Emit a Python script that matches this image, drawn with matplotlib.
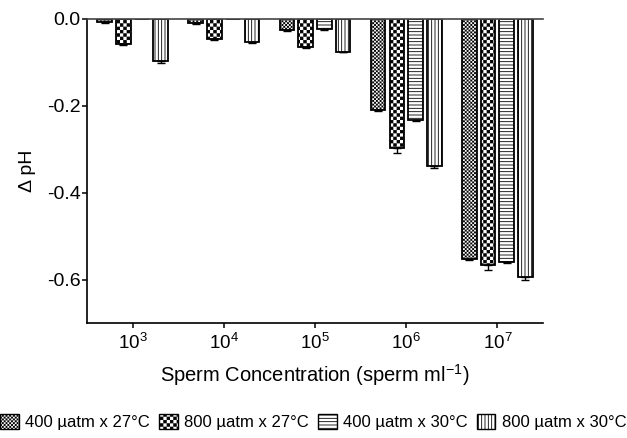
"""
    Delta pH against sperm concentration, grouped hatched bars
"""

import numpy as np
import matplotlib
matplotlib.use('Agg')
import matplotlib.pyplot as plt
import matplotlib.hatch as mhatch
from matplotlib.path import Path
from matplotlib.patches import Patch

concentrations = ['$10^{3}$', '$10^{4}$', '$10^{5}$', '$10^{6}$', '$10^{7}$']
series_labels = ['400 µatm x 27°C', '800 µatm x 27°C', '400 µatm x 30°C', '800 µatm x 30°C']

ph_400_27 = [-0.008, -0.009, -0.025, -0.210, -0.553]
ph_800_27 = [-0.058, -0.046, -0.065, -0.296, -0.567]
ph_400_30 = [0.0, 0.0, -0.023, -0.233, -0.560]
ph_800_30 = [-0.096, -0.054, -0.075, -0.339, -0.595]

err_400_27 = [0.002, 0.003, 0.002, 0.002, 0.003]
err_800_27 = [0.002, 0.002, 0.002, 0.012, 0.010]
err_400_30 = [0.0, 0.0, 0.002, 0.003, 0.002]
err_800_30 = [0.005, 0.002, 0.002, 0.004, 0.005]


class CheckerHatch(mhatch.HatchPatternBase):
    # filled checkerboard squares, one density step per 'O' in the hatch string
    inset = 0.004

    def __init__(self, hatch, density):
        n = hatch.count('O') * density
        self.n = n + (n % 2)
        self.num_vertices = (self.n * self.n // 2) * 5 if n else 0

    def set_vertices_and_codes(self, vertices, codes):
        s = 1.0 / self.n
        d = self.inset
        k = 0
        for i in range(self.n):
            for j in range(self.n):
                if (i + j) % 2:
                    continue
                x0, y0 = j * s + d, i * s + d
                x1, y1 = (j + 1) * s - d, (i + 1) * s - d
                vertices[k:k + 5] = [[x0, y0], [x1, y0], [x1, y1], [x0, y1], [x0, y0]]
                codes[k:k + 5] = [Path.MOVETO, Path.LINETO, Path.LINETO, Path.LINETO, Path.CLOSEPOLY]
                k += 5


# swap the big circles for the checkerboard ('O' is still a valid hatch char)
mhatch._hatch_types = [t for t in mhatch._hatch_types if t is not mhatch.LargeCircles] + [CheckerHatch]

plt.rcParams['font.family'] = ['Liberation Sans', 'DejaVu Sans']
plt.rcParams['mathtext.default'] = 'regular'
plt.rcParams['hatch.linewidth'] = 0.6
plt.rcParams['hatch.color'] = 'black'

hatches = ['O' * 9, 'O' * 5, '-' * 5, '|' * 5]
values = [ph_400_27, ph_800_27, ph_400_30, ph_800_30]
errors = [err_400_27, err_800_27, err_400_30, err_800_30]

fig = plt.figure(figsize=(6.27, 4.38), dpi=100)
ax = fig.add_axes([0.1388, 0.2626, 0.7273, 0.6941])

x = np.arange(len(concentrations))
width = 0.16
pitch = 0.205

for i in range(4):
    pos = x + (i - 1.5) * pitch
    vals = np.array(values[i])
    errs = np.array(errors[i])
    ax.bar(pos, vals, width=width, facecolor='white', edgecolor='black',
           linewidth=1.3, hatch=hatches[i], zorder=2)
    has_err = errs > 0     # no whisker where nothing was measured
    ax.errorbar(pos[has_err], vals[has_err], yerr=[errs[has_err], np.zeros(has_err.sum())],
                fmt='none', ecolor='black', elinewidth=1, capsize=3, capthick=1, zorder=3)

ax.set_xlim(-0.5, 4.5)
ax.set_ylim(-0.7, 0.0)
ax.set_yticks([0.0, -0.2, -0.4, -0.6])
ax.set_yticklabels(['0.0', '-0.2', '-0.4', '-0.6'])
ax.set_xticks(x)
ax.set_xticklabels(concentrations)

ax.spines['right'].set_visible(False)
for side in ['left', 'bottom']:
    ax.spines[side].set_linewidth(1.2)
ax.spines['top'].set_linewidth(1.2)
ax.spines['top'].set_color('#444444')

ax.tick_params(axis='both', direction='out', length=3.5, width=1.1, labelsize=14)
ax.tick_params(axis='y', pad=1)
ax.tick_params(axis='x', pad=4, labelsize=13.5)

ax.set_ylabel('Δ pH', fontsize=14, labelpad=8)
ax.set_xlabel('Sperm Concentration (sperm ml$^{-1}$)', fontsize=14.5, labelpad=6)

handles = [Patch(facecolor='white', edgecolor='black', linewidth=1.0, hatch=h) for h in hatches]
fig.legend(handles, series_labels, loc='center', bbox_to_anchor=(0.5, 1 - 422 / 438),
           ncol=4, frameon=False, fontsize=12, handlelength=1.1, handleheight=1.0,
           handletextpad=0.4, columnspacing=0.55, borderpad=0, borderaxespad=0)

fig.savefig('out.png', dpi=100)
